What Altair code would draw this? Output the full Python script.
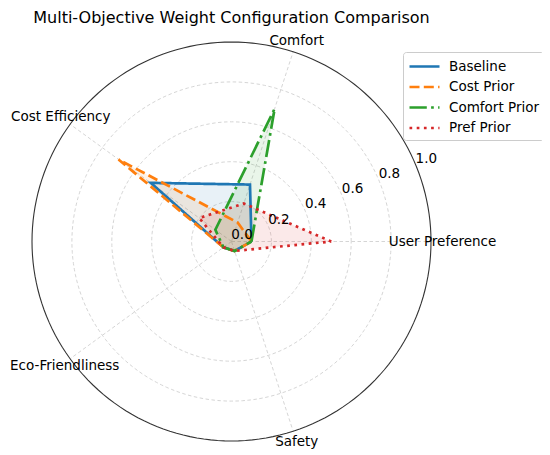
import altair as alt
import pandas as pd

# ---------------- data ----------------
categories = ["User Preference", "Comfort", "Cost Efficiency", "Eco-Friendliness", "Safety"]
series_names = ["Baseline", "Cost Prior", "Comfort Prior", "Pref Prior"]
baseline = [0.10, 0.30, 0.50, 0.05, 0.05]
cost_prior = [0.10, 0.10, 0.70, 0.05, 0.05]
comfort_prior = [0.10, 0.70, 0.10, 0.05, 0.05]
pref_prior = [0.50, 0.20, 0.20, 0.05, 0.05]
radial_ticks = [0.0, 0.2, 0.4, 0.6, 0.8, 1.0]
grid_levels = [0.2, 0.4, 0.6, 0.8]

colors = ["#1f77b4", "#ff7f0e", "#2ca02c", "#d62728"]
dashes = [[1, 0], [10, 4.3], [17.3, 4.3, 2.7, 4.3], [2.7, 4.5]]

N = len(categories)
rows = []
for name, vals in zip(series_names, [baseline, cost_prior, comfort_prior, pref_prior]):
    closed = vals + [vals[0]]
    for i, v in enumerate(closed):
        rows.append({"series": name, "idx": i, "value": v})
df = pd.DataFrame(rows)
cat_df = pd.DataFrame({"category": categories, "idx": list(range(N))})
tick_df = pd.DataFrame({"r": radial_ticks})
ring_df = pd.DataFrame({"r": grid_levels})
outer_df = pd.DataFrame({"r": [1.0]})

FONT = "DejaVu Sans"
xs = alt.Scale(domain=[-1, 1], nice=False, zero=False)
ys = alt.Scale(domain=[-1, 1], nice=False, zero=False)
ang = f"datum.idx * 2 * PI / {N}"


def circle(data, **mk):
    return (
        alt.Chart(data)
        .transform_calculate(deg="sequence(0, 362, 2)")
        .transform_flatten(["deg"])
        .transform_calculate(
            cx="datum.r * cos(datum.deg * PI / 180)",
            cy="datum.r * sin(datum.deg * PI / 180)",
        )
        .mark_line(**mk)
        .encode(
            x=alt.X("cx:Q", scale=xs, axis=None),
            y=alt.Y("cy:Q", scale=ys, axis=None),
            detail="r:N",
            order="deg:Q",
        )
    )


rings = circle(ring_df, color="#d0d0d0", strokeWidth=0.9, strokeDash=[3.5, 2.5])
outer = circle(outer_df, color="#333333", strokeWidth=1.1)

spokes = (
    alt.Chart(cat_df)
    .transform_calculate(
        zero="0",
        sx=f"cos({ang})",
        sy=f"sin({ang})",
    )
    .mark_rule(color="#d0d0d0", strokeWidth=0.9, strokeDash=[3.5, 2.5])
    .encode(
        x=alt.X("zero:Q", scale=xs, axis=None),
        y=alt.Y("zero:Q", scale=ys, axis=None),
        x2="sx:Q",
        y2="sy:Q",
    )
)

base = alt.Chart(df).transform_calculate(
    px=f"datum.value * cos({ang})",
    py=f"datum.value * sin({ang})",
)

leg = alt.Legend(
    title=None,
    orient="none",
    legendX=371,
    legendY=10,
    symbolType="M-1,0H2.75",
    symbolSize=256,
    symbolStrokeWidth=2.7,
    rowPadding=4.5,
    labelFontSize=13.5,
    labelFont=FONT,
    labelColor="black",
    labelOffset=22,
    padding=5,
    strokeColor="#cccccc",
    fillColor="white",
    cornerRadius=3,
)

fills = base.mark_line(strokeWidth=0, fillOpacity=0.1).encode(
    x=alt.X("px:Q", scale=xs, axis=None),
    y=alt.Y("py:Q", scale=ys, axis=None),
    fill=alt.Fill("series:N", scale=alt.Scale(domain=series_names, range=colors), legend=leg),
    detail="series:N",
    order="idx:Q",
)

lines = base.mark_line(strokeWidth=2.7).encode(
    x=alt.X("px:Q", scale=xs, axis=None),
    y=alt.Y("py:Q", scale=ys, axis=None),
    color=alt.Color("series:N", scale=alt.Scale(domain=series_names, range=colors), legend=leg),
    strokeDash=alt.StrokeDash("series:N", scale=alt.Scale(domain=series_names, range=dashes), legend=leg),
    order="idx:Q",
)

cat_labels = (
    alt.Chart(cat_df)
    .transform_calculate(
        lx=f"1.058 * cos({ang}) + (datum.category == 'Eco-Friendliness' ? 0.02 : 0)",
        ly=f"1.058 * sin({ang})",
    )
    .mark_text(font=FONT, fontSize=13.5, color="black", align="center", baseline="middle")
    .encode(
        x=alt.X("lx:Q", scale=xs, axis=None),
        y=alt.Y("ly:Q", scale=ys, axis=None),
        text="category:N",
    )
)

tick_labels = (
    alt.Chart(tick_df)
    .transform_calculate(
        tx="datum.r * cos(22.5 * PI / 180)",
        ty="datum.r * sin(22.5 * PI / 180)",
    )
    .mark_text(font=FONT, fontSize=13.5, color="black", align="center", baseline="middle", dx=10.5, dy=-6.5)
    .encode(
        x=alt.X("tx:Q", scale=xs, axis=None),
        y=alt.Y("ty:Q", scale=ys, axis=None),
        text=alt.Text("r:Q", format=".1f"),
    )
)

chart = (
    alt.layer(rings, spokes, outer, fills, lines, cat_labels, tick_labels)
    .properties(
        width=399,
        height=399,
        title=alt.TitleParams(
            "Multi-Objective Weight Configuration Comparison",
            font=FONT,
            fontSize=16,
            fontWeight="normal",
            color="black",
            anchor="middle",
            frame="group",
            offset=7.5,
        ),
        padding={"left": 24, "top": 34, "right": 111, "bottom": 9},
        autosize=alt.AutoSizeParams(type="none"),
        background="white",
    )
    .configure_view(stroke=None)
)

chart.save("out.html", embed_options={"renderer": "svg", "actions": False})
